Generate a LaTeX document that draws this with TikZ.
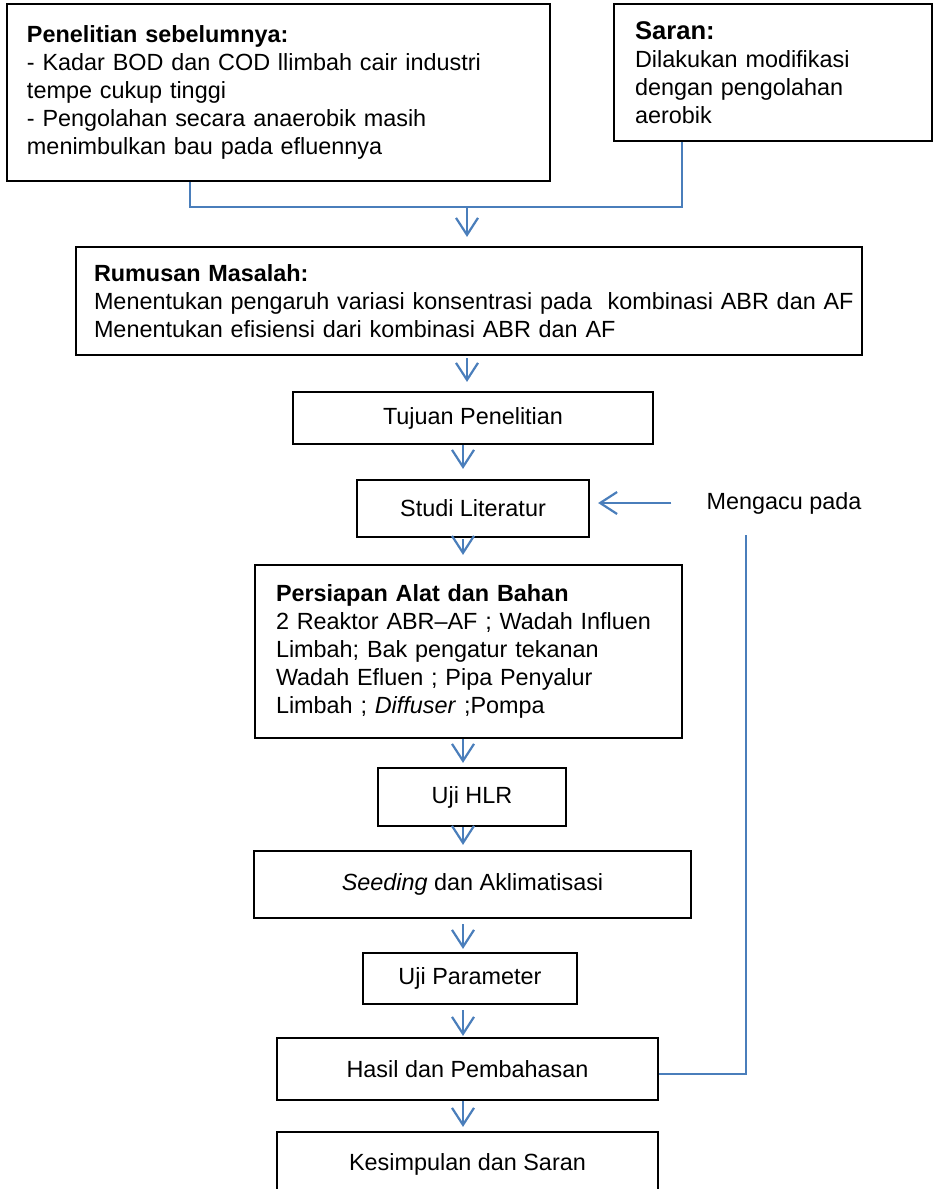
\documentclass[tikz,border=0pt]{standalone}
\usepackage{fontspec}
\setmainfont{Liberation Sans}
\usetikzlibrary{arrows.meta}
\definecolor{lnblue}{HTML}{4A7EBB}
\begin{document}
\begin{tikzpicture}[x=1pt,y=-1pt,
  box/.style={draw=black, line width=2.2pt, rectangle, inner ysep=0pt,
    font=\fontsize{23.4}{28}\selectfont},
  lbox/.style={box, align=left},
  cbox/.style={box, align=center, inner xsep=0pt},
  conn/.style={draw=lnblue, line width=2.2pt},
  arr/.style={conn, -{Straight Barb[length=17pt,width=22pt,line width=2.2pt]}},
  lbl/.style={inner sep=0pt, font=\fontsize{23.4}{28}\selectfont}]
\useasboundingbox (0,0) rectangle (933,1189);
\clip (0,0) rectangle (933,1189);

% boxes
\node[lbox, minimum width=543pt, minimum height=177pt, text width=503pt, inner xsep=20pt] (pen) at (278.5,92.5)
 {\textbf{Penelitian sebelumnya:}\\
  - Kadar BOD dan COD llimbah cair industri\\
  tempe cukup tinggi\\
  - Pengolahan secara anaerobik masih\\
  menimbulkan bau pada efluennya};
\node[lbox, minimum width=318pt, minimum height=137pt, text width=276pt, inner xsep=21pt] (sar) at (773,72.5)
 {{\fontsize{25.6}{28}\selectfont\textbf{Saran:}}\\
  Dilakukan modifikasi\\
  dengan pengolahan\\
  aerobik};
\node[lbox, minimum width=786pt, minimum height=108pt, text width=750pt, inner xsep=18pt] (rum) at (469,301)
 {\textbf{Rumusan Masalah:}\\
  \mbox{Menentukan pengaruh variasi konsentrasi pada\ \ kombinasi ABR dan AF}\\
  Menentukan efisiensi dari kombinasi ABR dan AF};
\node[cbox, minimum width=360pt, minimum height=52pt] (tuj) at (473,418) {Tujuan Penelitian};
\node[cbox, minimum width=232pt, minimum height=57pt] (stu) at (473,508.5) {Studi Literatur};
\node[lbox, minimum width=427pt, minimum height=173pt, text width=385pt, inner xsep=21pt] (per) at (468.5,651.5)
 {\textbf{Persiapan Alat dan Bahan}\\
  2 Reaktor ABR--AF ; Wadah Influen\\
  Limbah; Bak pengatur tekanan\\
  Wadah Efluen ; Pipa Penyalur\\
  Limbah ; \textit{Diffuser} ;Pompa};
\node[cbox, minimum width=188pt, minimum height=58pt] (hlr) at (472,797) {Uji HLR};
\node[cbox, minimum width=437pt, minimum height=67pt] (see) at (472.5,884.5) {\textit{Seeding} dan Aklimatisasi};
\node[cbox, minimum width=214pt, minimum height=51pt] (par) at (470,978.5) {Uji Parameter};
\node[cbox, minimum width=381pt, minimum height=62pt] (has) at (467.5,1069) {Hasil dan Pembahasan};
\node[cbox, minimum width=381pt, minimum height=64pt] (kes) at (467.5,1164) {Kesimpulan dan Saran};
\node[lbl] (men) at (784,503) {Mengacu pada};

% helper coordinates
\coordinate (c1) at (467,0);
\coordinate (c2) at (463,0);
\coordinate (jl) at (190,207);
\coordinate (jr) at (682,207);
\coordinate (jm) at (467,207);
\coordinate (fbt) at (746,535);
\coordinate (fbb) at (746,1074);

% connectors
\draw[conn] (jl |- pen.south) -- (jl) -- (jr) -- (jr |- sar.south);
\draw[arr, shorten >=9pt] (jm) -- (rum.north -| jm);
\draw[arr, shorten <=2pt, shorten >=9pt] (rum.south -| c1) -- (tuj.north -| c1);
\draw[arr, shorten >=10pt] (tuj.south -| c2) -- (stu.north -| c2);
\draw[arr, shorten <=1pt, shorten >=9pt] (stu.south -| c2) -- (per.north -| c2);
\draw[arr, shorten >=4pt] (per.south -| c2) -- (hlr.north -| c2);
\draw[arr, shorten >=5pt] (hlr.south -| c2) -- (see.north -| c2);
\draw[arr, shorten <=5pt, shorten >=3pt] (see.south -| c2) -- (par.north -| c2);
\draw[arr, shorten <=5pt, shorten >=1pt] (par.south -| c2) -- (has.north -| c2);
\draw[arr, shorten >=4pt] (has.south -| c2) -- (kes.north -| c2);
\draw[arr, shorten <=35pt, shorten >=8pt] (men.west) -- (men.west -| stu.east);
\draw[conn] (fbt) -- (fbb) -- (fbb -| has.east);
\end{tikzpicture}
\end{document}
